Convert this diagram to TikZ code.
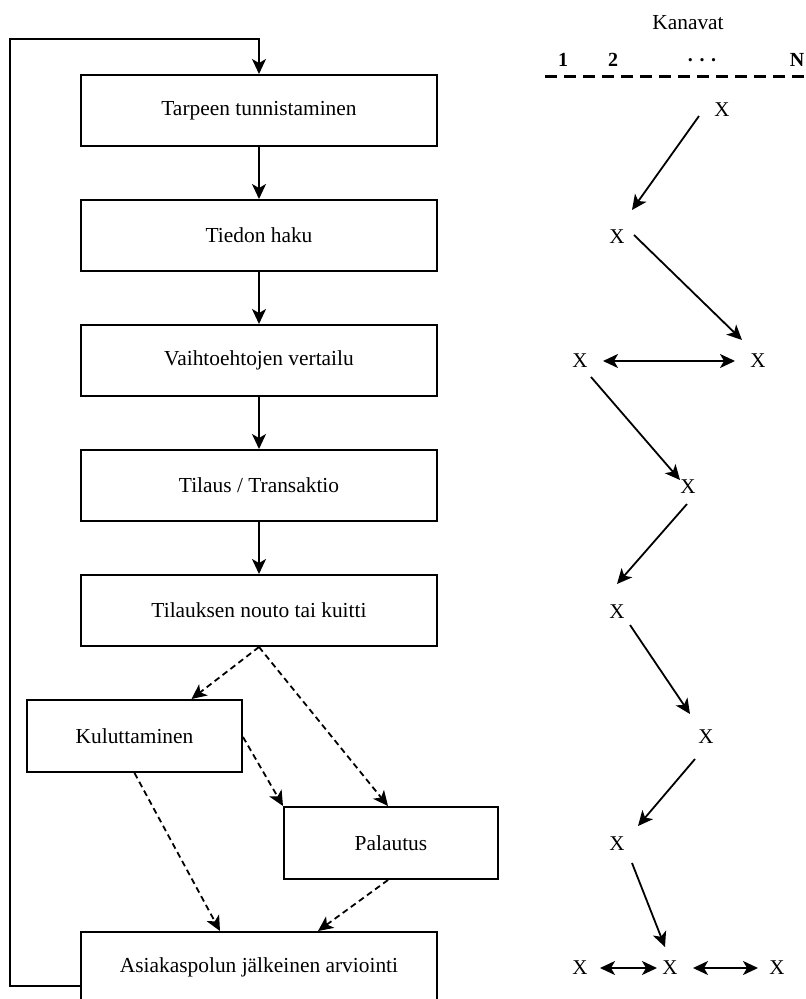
\documentclass[tikz,border=0pt]{standalone}
\usepackage{fontspec}
\setmainfont{Liberation Serif}
\usetikzlibrary{arrows.meta,calc}

\begin{document}
\begin{tikzpicture}[x=1bp,y=-1bp,
  tipstyle/.tip={Stealth[length=15bp,width=14bp,inset=4bp]},
  stagebox/.style={draw, line width=2bp, minimum width=356bp, minimum height=71bp,
    inner sep=0pt, font=\fontsize{21.4bp}{25bp}\selectfont},
  sidebox/.style={stagebox, minimum width=214bp, minimum height=72bp},
  flow/.style={line width=1.8bp, -tipstyle},
  optflow/.style={flow, dash pattern=on 6bp off 4bp},
  both/.style={line width=1.8bp, tipstyle-tipstyle},
  chanx/.style={inner sep=0pt, font=\fontsize{21bp}{24bp}\selectfont},
  chanlabel/.style={inner sep=0pt, font=\bfseries\fontsize{20bp}{24bp}\selectfont},
]
\useasboundingbox (0,0) rectangle (806,999);

% ---- purchase process stages ----
\node[stagebox] (b1) at (259,110.5) {Tarpeen tunnistaminen};
\node[stagebox] (b2) at (259,235.5) {Tiedon haku};
\node[stagebox] (b3) at (259,360.5) {Vaihtoehtojen vertailu};
\node[stagebox] (b4) at (259,485.5) {Tilaus / Transaktio};
\node[stagebox] (b5) at (259,610.5) {Tilauksen nouto tai kuitti};
\node[sidebox, minimum width=215bp] (kul) at (134.5,736) {Kuluttaminen};
\node[sidebox] (pal) at (391,843) {Palautus};
\node[stagebox] (b8) at (259,967.5) {Asiakaspolun jälkeinen arviointi};

\draw[flow] (b1) -- (b2);
\draw[flow] (b2) -- (b3);
\draw[flow] (b3) -- (b4);
\draw[flow] (b4) -- (b5);

% optional after-purchase paths
\draw[optflow] (b5.south) -- ($(kul.north)+(57,0)$);
\draw[optflow] (b5.south) -- ($(pal.north)+(-3,0)$);
\draw[optflow] ($(kul.east)+(0,1)$) -- (pal.north west);
\draw[optflow] (kul.south) -- ($(b8.north)+(-39,0)$);
\draw[optflow] ($(pal.south)+(-3,0)$) -- ($(b8.north)+(59,0)$);

% feedback loop back to the start
\coordinate (loopcorner) at (10,39);
\draw[flow] ($(b8.west)+(0,18.5)$) -| (loopcorner) -| (b1.north);

% ---- channel header ----
\node[inner sep=0pt, font=\fontsize{21.4bp}{25bp}\selectfont] (kan) at (688,23) {Kanavat};
\node[chanlabel] (c1) at (563,60) {1};
\node[chanlabel] (c2) at (613,60) {2};
\node[chanlabel] (cdots) at (702,60) {. . .};
\node[chanlabel] (cN) at (797,60) {N};
\coordinate (rulestart) at (545,76);
\coordinate (ruleend) at (806,76);
\draw[line width=3bp, dash pattern=on 12bp off 7bp] (rulestart) -- (ruleend);

% ---- channel choices per stage ----
\node[chanx] (x1)  at (722,110) {X};
\node[chanx] (x2)  at (617,237) {X};
\node[chanx] (x3a) at (580,361) {X};
\node[chanx] (x3b) at (758,361) {X};
\node[chanx] (x4)  at (688,487) {X};
\node[chanx] (x5)  at (617,612) {X};
\node[chanx] (x6)  at (706,737) {X};
\node[chanx] (x7)  at (617,844) {X};
\node[chanx] (x8a) at (580,968) {X};
\node[chanx] (x8b) at (670,968) {X};
\node[chanx] (x8c) at (777,968) {X};

\draw[flow] ($(x1)+(-23,6)$) -- ($(x2)+(15,-27)$);
\draw[flow] ($(x2)+(17,-2)$) -- ($(x3b)+(-16,-21)$);
\draw[both] ($(x3a)+(23,0)$) -- ($(x3b)+(-23,0)$);
\draw[flow] ($(x3a)+(11,16)$) -- ($(x4)+(-8,-7)$);
\draw[flow] ($(x4)+(-1,17)$) -- ($(x5)+(0,-28)$);
\draw[flow] ($(x5)+(13,13)$) -- ($(x6)+(-16,-23)$);
\draw[flow] ($(x6)+(-11,22)$) -- ($(x7)+(21,-18)$);
\draw[flow] ($(x7)+(15,19)$) -- ($(x8b)+(-5,-21)$);
\draw[both] ($(x8a)+(20,0)$) -- ($(x8b)+(-13,0)$);
\draw[both] ($(x8b)+(23,0)$) -- ($(x8c)+(-19,0)$);
\end{tikzpicture}
\end{document}
